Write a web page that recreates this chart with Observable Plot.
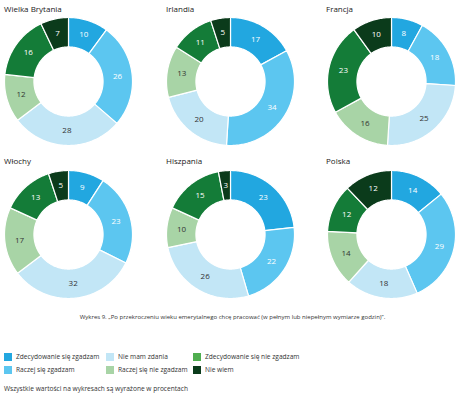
<!DOCTYPE html>
<html><head><meta charset="utf-8">
<script src="https://cdn.jsdelivr.net/npm/d3@7"></script>
<script src="https://cdn.jsdelivr.net/npm/@observablehq/plot@0.6"></script>
<style>
body{margin:0;background:#fff;font-family:"Open Sans",sans-serif;}
#wrap{position:relative;width:465px;height:395px;overflow:hidden;}
.t{position:absolute;font-size:8px;color:#222;white-space:nowrap;}
.d{position:absolute;}
.cap{position:absolute;left:0;width:465px;text-align:center;font-size:6px;color:#333;top:313px;white-space:nowrap;}
.lg{position:absolute;font-size:6.6px;color:#333;white-space:nowrap;display:flex;align-items:center;}
.sw{display:inline-block;width:8px;height:8px;margin-right:4px;}
.note{position:absolute;left:4px;top:384px;font-size:6.6px;color:#333;white-space:nowrap;}
</style></head>
<body><div id="wrap"></div>
<script>
const countries = ["Wielka Brytania","Irlandia","Francja","Włochy","Hiszpania","Polska"];
const categories = ["Zdecydowanie się zgadzam","Raczej się zgadzam","Nie mam zdania","Raczej się nie zgadzam","Zdecydowanie się nie zgadzam","Nie wiem"];
const colors = ["#22a7e0","#5cc6f0","#c2e6f6","#a8d4a6","#147c38","#0b3b1b"];
const legendColors = ["#22a7e0","#5cc6f0","#c2e6f6","#a8d4a6","#4fae4f","#0b3b1b"];
const labelColors = ["#fff","#fff","#333","#333","#fff","#fff"];
const valuesUK = [10,26,28,12,16,7];
const valuesIrlandia = [17,34,20,13,11,5];
const valuesFrancja = [8,18,25,16,23,10];
const valuesWlochy = [9,23,32,17,13,5];
const valuesHiszpania = [23,22,26,10,15,3];
const valuesPolska = [14,29,18,14,12,12];
const allValues = [valuesUK,valuesIrlandia,valuesFrancja,valuesWlochy,valuesHiszpania,valuesPolska];
const caption = "Wykres 9. „Po przekroczeniu wieku emerytalnego chcę pracować (w pełnym lub niepełnym wymiarze godzin)”.";
const note = "Wszystkie wartości na wykresach są wyrażone w procentach";

const wrap = document.getElementById("wrap");
const centersX = [68,230,391], centersY = [81,234];
const titleX = [4,166,326], titleY = [3,155];
const size = 132, R0 = 0.54;

countries.forEach((name,i)=>{
  const vals = allValues[i];
  const total = d3.sum(vals);
  const pie = d3.pie().sort(null).value(d=>d)(vals);
  const pts = [], labels = [];
  pie.forEach((p,j)=>{
    const a0 = p.startAngle, a1 = p.endAngle;
    const n = Math.max(2, Math.ceil((a1-a0)/(Math.PI/180)));
    for(let k=0;k<=n;k++){const a=a0+(a1-a0)*k/n; pts.push({s:j,cat:categories[j],x:Math.sin(a),y:Math.cos(a)});}
    for(let k=n;k>=0;k--){const a=a0+(a1-a0)*k/n; pts.push({s:j,cat:categories[j],x:R0*Math.sin(a),y:R0*Math.cos(a)});}
    const am=(a0+a1)/2, rm=(1+R0)/2;
    labels.push({x:rm*Math.sin(am),y:rm*Math.cos(am),t:String(vals[j]),c:labelColors[j]});
  });
  const chart = Plot.plot({
    width:size,height:size,margin:2,
    x:{domain:[-1,1],axis:null},y:{domain:[-1,1],axis:null},
    color:{domain:categories,range:colors},
    style:{background:"transparent"},
    marks:[
      Plot.line(pts,{x:"x",y:"y",z:"s",fill:"cat",stroke:"white",strokeWidth:1.2,curve:"linear-closed"}),
      Plot.text(labels.filter(d=>d.c==="#fff"),{x:"x",y:"y",text:"t",fill:"#fff",fontSize:8,fontFamily:"Open Sans"}),
      Plot.text(labels.filter(d=>d.c!=="#fff"),{x:"x",y:"y",text:"t",fill:"#333",fontSize:8,fontFamily:"Open Sans"})
    ]
  });
  const col=i%3,row=Math.floor(i/3);
  const d=document.createElement("div");d.className="d";
  d.style.left=(centersX[col]-size/2)+"px";d.style.top=(centersY[row]-size/2)+"px";
  d.appendChild(chart);wrap.appendChild(d);
  const t=document.createElement("div");t.className="t";t.textContent=name;
  t.style.left=titleX[col]+"px";t.style.top=titleY[row]+"px";wrap.appendChild(t);
});
const c=document.createElement("div");c.className="cap";c.textContent=caption;wrap.appendChild(c);
const legX=[4,106,193], legY=[352,365];
const legOrder=[[0,0,0],[1,0,1],[2,1,0],[3,1,1],[4,2,0],[5,2,1]];
legOrder.forEach(([k,cx,ry])=>{
  const l=document.createElement("div");l.className="lg";
  l.style.left=legX[cx]+"px";l.style.top=legY[ry]+"px";
  l.innerHTML=`<span class="sw" style="background:${legendColors[k]}"></span>`;
  l.appendChild(document.createTextNode(categories[k]));wrap.appendChild(l);
});
const n=document.createElement("div");n.className="note";n.textContent=note;wrap.appendChild(n);
</script></body></html>
